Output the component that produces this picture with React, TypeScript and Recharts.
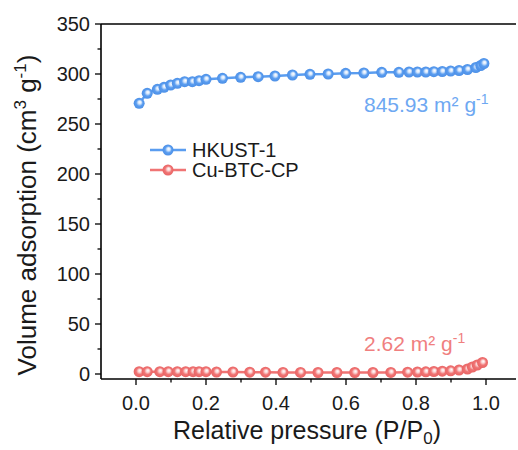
import React from 'react';
import { LineChart, Line, XAxis, YAxis, ReferenceLine, Customized } from 'recharts';

const FONT = '"Liberation Sans", Arial, Helvetica, sans-serif';
const BLUE = '#5a9df0';
const BLUE_TXT = '#6ea8f2';
const RED = '#f07474';
const RED_TXT = '#f07f7f';

// HKUST-1 isotherm
const hkustX = [0.009, 0.032, 0.061, 0.08, 0.099, 0.118, 0.139, 0.161, 0.18, 0.2, 0.247, 0.299, 0.349, 0.397, 0.447, 0.497, 0.549, 0.599, 0.651, 0.702, 0.751, 0.78, 0.804, 0.828, 0.851, 0.875, 0.899, 0.923, 0.947, 0.971, 0.985, 0.994];
const hkustY = [270.7, 280.7, 284.7, 286.7, 289, 290.7, 292.3, 292.3, 293.3, 294.7, 295.7, 296.7, 297.3, 298, 299, 299.7, 300, 300.7, 301, 301.7, 301.7, 302, 302, 302, 302.3, 302.5, 303, 303.5, 304.5, 306.5, 308.5, 310.5];

// Cu-BTC-CP isotherm
const cuX = [0.009, 0.032, 0.068, 0.092, 0.118, 0.142, 0.163, 0.18, 0.2, 0.23, 0.277, 0.325, 0.37, 0.42, 0.47, 0.52, 0.574, 0.625, 0.677, 0.728, 0.776, 0.804, 0.828, 0.851, 0.875, 0.899, 0.923, 0.947, 0.961, 0.975, 0.99];
const cuY = [2.3, 2.3, 2.3, 2.3, 2.3, 2.3, 2.3, 2.3, 2.3, 2.0, 2.0, 1.8, 1.8, 1.6, 1.6, 1.5, 1.5, 1.5, 1.5, 1.6, 1.8, 2.0, 2.2, 2.5, 2.8, 3.2, 4.0, 5.0, 7.0, 9.0, 11.5];

const xTicks = [0, 0.1, 0.2, 0.3, 0.4, 0.5, 0.6, 0.7, 0.8, 0.9, 1.0];
const yTicks = [0, 25, 50, 75, 100, 125, 150, 175, 200, 225, 250, 275, 300, 325, 350];

const hkustData = hkustX.map((x, i) => ({ x, y: hkustY[i] }));
const cuData = cuX.map((x, i) => ({ x, y: cuY[i] }));

const XTick = (props: any) => {
  const { x, y, payload } = props;
  const v = payload.value;
  const major = Math.round(v * 10) % 2 === 0;
  return (
    <g>
      <line x1={x} x2={x} y1={y} y2={y + (major ? 6 : 3.5)} stroke="#000" strokeWidth={1.3} />
      {major && (
        <text x={x} y={y + 31} textAnchor="middle" fontSize={20} fontFamily={FONT} fill="#1a1a1a">
          {v.toFixed(1)}
        </text>
      )}
    </g>
  );
};

const YTick = (props: any) => {
  const { x, y, payload } = props;
  const v = payload.value;
  const major = v % 50 === 0;
  return (
    <g>
      <line x1={x} x2={x - (major ? 6 : 3.5)} y1={y} y2={y} stroke="#000" strokeWidth={1.3} />
      {major && (
        <text x={x - 11} y={y + 7} textAnchor="end" fontSize={20} fontFamily={FONT} fill="#1a1a1a">
          {v}
        </text>
      )}
    </g>
  );
};

const makeDot = (grad: string) => (p: any) => (
  <circle key={`d-${grad}-${p.index}`} cx={p.cx} cy={p.cy} r={5.5} fill={`url(#${grad})`} />
);

const Overlay = () => (
  <g>
    <defs>
      <radialGradient id="gBlue" cx="50%" cy="50%" r="50%" fx="58%" fy="38%">
        <stop offset="0%" stopColor="#ffffff" />
        <stop offset="28%" stopColor="#d6e7fc" />
        <stop offset="60%" stopColor={BLUE} />
        <stop offset="100%" stopColor="#4c8fe6" />
      </radialGradient>
      <radialGradient id="gRed" cx="50%" cy="50%" r="50%" fx="58%" fy="38%">
        <stop offset="0%" stopColor="#ffffff" />
        <stop offset="28%" stopColor="#fbd6d6" />
        <stop offset="60%" stopColor={RED} />
        <stop offset="100%" stopColor="#e86464" />
      </radialGradient>
    </defs>
    {/* legend */}
    <line x1={150} x2={186} y1={150} y2={150} stroke={BLUE} strokeWidth={2.5} />
    <circle cx={168} cy={150} r={5.5} fill="url(#gBlue)" />
    <text x={192} y={157} fontSize={20} fontFamily={FONT} fill="#1a1a1a">HKUST-1</text>
    <line x1={150} x2={186} y1={170} y2={170} stroke={RED} strokeWidth={2.5} />
    <circle cx={168} cy={170} r={5.5} fill="url(#gRed)" />
    <text x={192} y={177} fontSize={20} fontFamily={FONT} fill="#1a1a1a">Cu-BTC-CP</text>
    {/* annotations */}
    <text x={364} y={112} fontSize={21} fontFamily={FONT} fill={BLUE_TXT}>
      845.93 m² g<tspan dy={-8} fontSize={14}>-1</tspan>
    </text>
    <text x={364} y={351} fontSize={21} fontFamily={FONT} fill={RED_TXT}>
      2.62 m² g<tspan dy={-8} fontSize={14}>-1</tspan>
    </text>
    {/* axis titles */}
    <text x={307} y={439} textAnchor="middle" fontSize={25} fontFamily={FONT} fill="#1a1a1a">
      Relative pressure (P/P<tspan dy={5} fontSize={17}>0</tspan><tspan dy={-5}>)</tspan>
    </text>
    <text
      x={0}
      y={0}
      transform="translate(36,215) rotate(-90)"
      textAnchor="middle"
      fontSize={26}
      fontFamily={FONT}
      fill="#1a1a1a"
    >
      Volume adsorption (cm<tspan dy={-10} fontSize={17}>3</tspan>
      <tspan dy={10}> g</tspan>
      <tspan dy={-10} fontSize={17}>-1</tspan>
      <tspan dy={10}>)</tspan>
    </text>
  </g>
);

export default function App() {
  return (
    <div style={{ position: 'absolute', left: 0, top: 0, width: 518, height: 450, overflow: 'hidden', background: '#fff' }}>
      <LineChart width={518} height={450} margin={{ top: 24, right: 2, bottom: 11, left: 11 }}>
        <XAxis
          type="number"
          dataKey="x"
          domain={[-0.1, 1.0857]}
          allowDataOverflow
          ticks={xTicks}
          interval={0}
          tick={<XTick />}
          tickLine={false}
          tickSize={0}
          tickMargin={0}
          axisLine={{ stroke: '#000', strokeWidth: 1.6 }}
          height={60}
        />
        <YAxis
          type="number"
          dataKey="y"
          domain={[-5, 350]}
          allowDataOverflow
          ticks={yTicks}
          interval={0}
          tick={<YTick />}
          tickLine={false}
          tickSize={0}
          tickMargin={0}
          axisLine={{ stroke: '#000', strokeWidth: 1.6 }}
          width={90}
        />
        <ReferenceLine y={350} stroke="#000" strokeWidth={1.6} />
        <Line
          data={hkustData}
          dataKey="y"
          type="linear"
          stroke={BLUE}
          strokeWidth={2.5}
          dot={makeDot('gBlue')}
          activeDot={false}
          isAnimationActive={false}
        />
        <Line
          data={cuData}
          dataKey="y"
          type="linear"
          stroke={RED}
          strokeWidth={2.5}
          dot={makeDot('gRed')}
          activeDot={false}
          isAnimationActive={false}
        />
        <Customized component={Overlay} />
      </LineChart>
    </div>
  );
}
